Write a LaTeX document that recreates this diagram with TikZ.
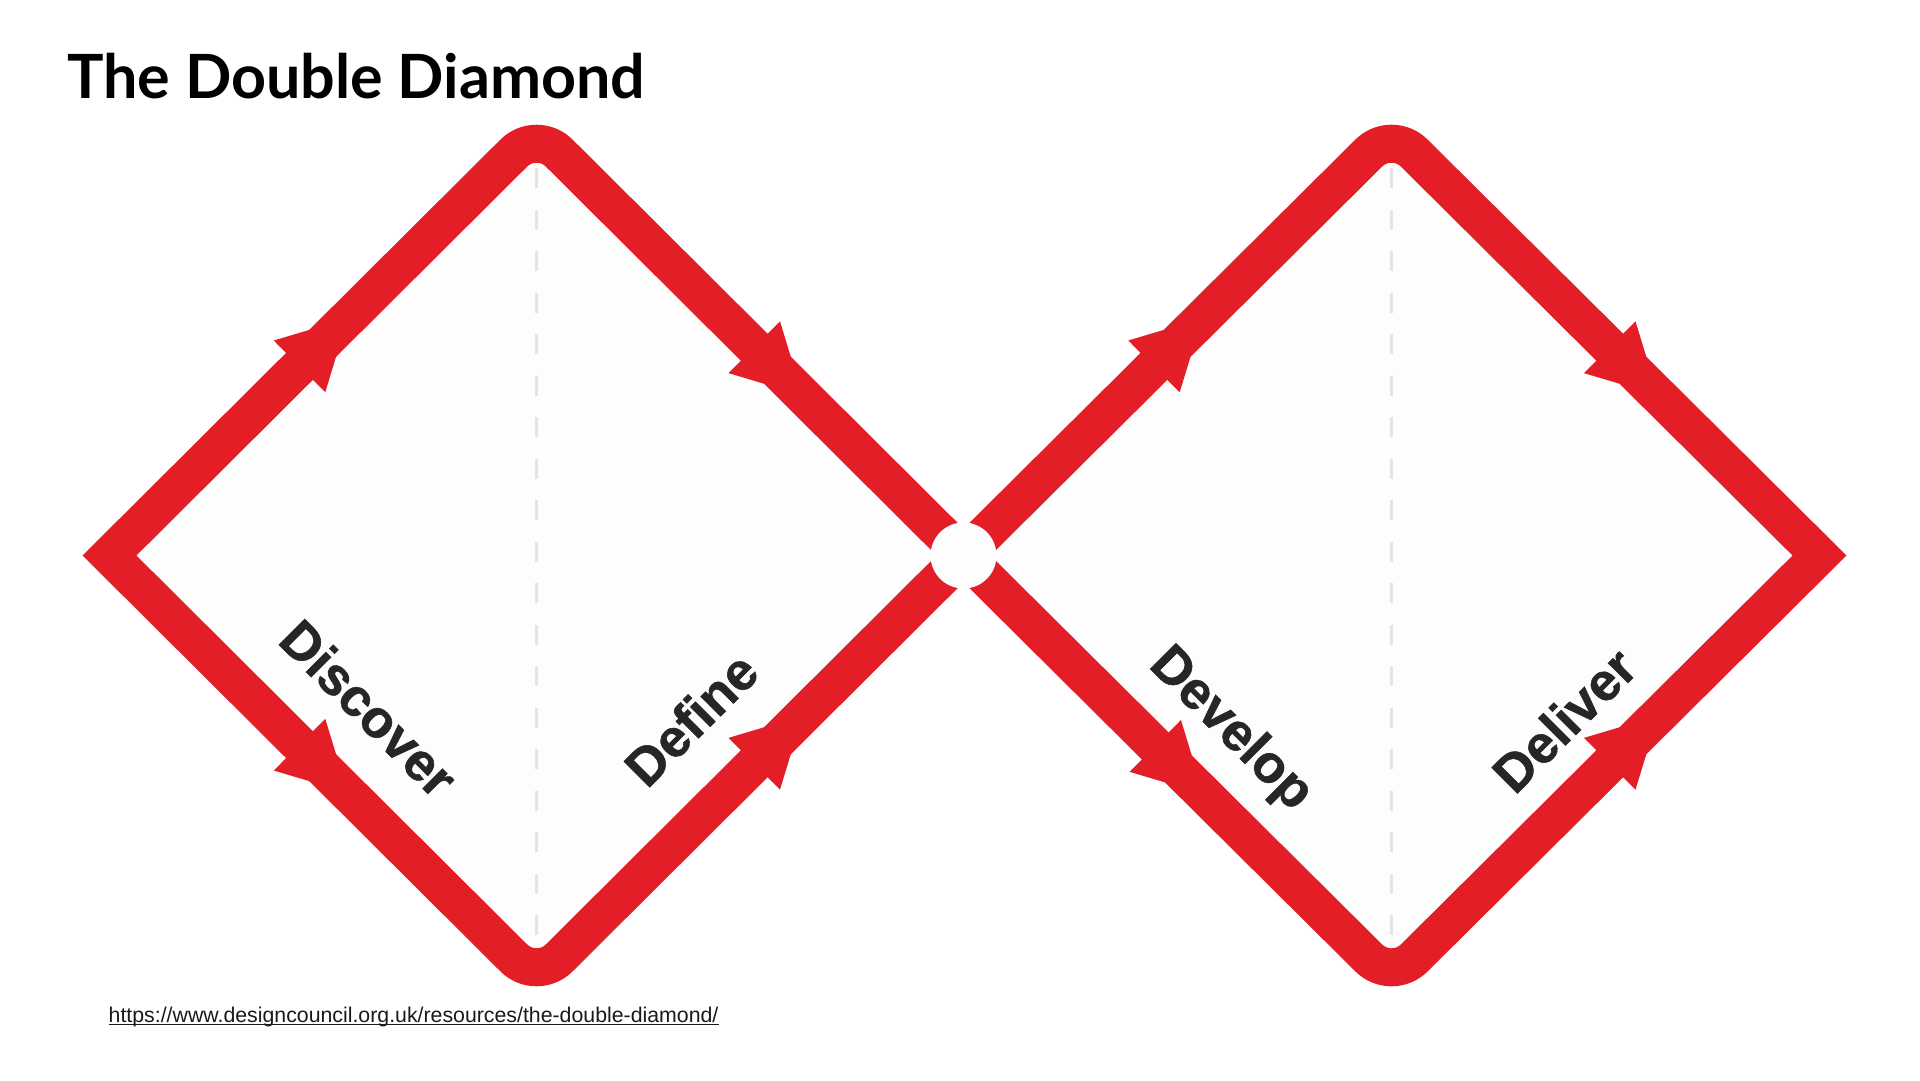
\documentclass[tikz,border=0pt]{standalone}
\usepackage{fontspec}
\setmainfont{Liberation Sans}
\newfontfamily\titlefont{Lato}
\newfontfamily\labelfont{Liberation Sans Bold}[FakeBold=1]
\usetikzlibrary{calc}
\definecolor{ddred}{HTML}{E31E26}
\definecolor{ddtext}{HTML}{262626}
\definecolor{dddash}{HTML}{E4E4E4}
\definecolor{ddin}{HTML}{FDFDFD}
\definecolor{urlc}{HTML}{1A1A1A}
\tikzset{
 ddline/.style={draw=ddred, line width=38pt, line join=miter},
 ddguide/.style={draw=dddash, line width=3.3pt, dash pattern=on 20pt off 21.5pt},
 ddlabel/.style={font={\fontsize{53pt}{53pt}\labelfont}, text=ddtext, inner sep=0pt, text height=38pt, text depth=0pt},
}
\newcommand{\ddarrow}[3]{%
 \path ($(#1)!#3!(#2)$) coordinate (ddback);
 \fill[ddred] ($(ddback)!68pt!(#2)$) -- ($(ddback)!36.5pt!90:(#2)$) -- ($(ddback)!36.5pt!-90:(#2)$) -- cycle;}
\newcommand{\ddcorner}[4]{%
 \path ($(#2)!32pt!(#3)$) coordinate (#1a) ($(#2)!14.34pt!(#3)$) coordinate (#1ac)
       ($(#2)!32pt!(#4)$) coordinate (#1b) ($(#2)!14.34pt!(#4)$) coordinate (#1bc);}
\newcommand{\ddleftpath}{(C) -- (t1b) .. controls (t1bc) and (t1ac) .. (t1a) -- (L1) -- (b1a) .. controls (b1ac) and (b1bc) .. (b1b) -- cycle}
\newcommand{\ddrightpath}{(C) -- (t2a) .. controls (t2ac) and (t2bc) .. (t2b) -- (R2) -- (b2b) .. controls (b2bc) and (b2ac) .. (b2a) -- cycle}
\begin{document}
\begin{tikzpicture}[x=1pt,y=-1pt]
\useasboundingbox (0,0) rectangle (1920,1080);
\fill[white] (0,0) rectangle (1920,1080);
% key points
\coordinate (C) at (963.5,555.5);
\coordinate (L1) at (109.5,555.5);
\coordinate (T1) at (536.5,130.5);
\coordinate (B1) at (536.5,980.5);
\coordinate (T2) at (1391.5,130.5);
\coordinate (B2) at (1391.5,980.5);
\coordinate (R2) at (1819.5,555.5);
\ddcorner{t1}{T1}{L1}{C}
\ddcorner{b1}{B1}{L1}{C}
\ddcorner{t2}{T2}{C}{R2}
\ddcorner{b2}{B2}{C}{R2}
% interiors
\fill[ddin] \ddleftpath;
\fill[ddin] \ddrightpath;
% dashed guides
\coordinate (g1s) at (536.5,168);
\coordinate (g1e) at (536.5,950);
\coordinate (g2s) at (1391.5,168);
\coordinate (g2e) at (1391.5,950);
\draw[ddguide] (g1s) -- (g1e);
\draw[ddguide] (g2s) -- (g2e);
% red outlines
\draw[ddline] \ddleftpath;
\draw[ddline] \ddrightpath;
% arrowheads
\ddarrow{L1}{T1}{0.445}
\ddarrow{T1}{C}{0.51}
\ddarrow{L1}{B1}{0.445}
\ddarrow{B1}{C}{0.51}
\ddarrow{C}{T2}{0.445}
\ddarrow{T2}{R2}{0.51}
\ddarrow{C}{B2}{0.448}
\ddarrow{B2}{R2}{0.51}
% centre hole
\fill[ddin] (C) circle[radius=33];
% labels
\node[ddlabel, rotate=-45] (discover) at (369,708) {Discover};
\node[ddlabel, rotate=45] (define) at (691,719) {Define};
\node[ddlabel, rotate=-45] (develop) at (1234,726) {Develop};
\node[ddlabel, rotate=45] (deliver) at (1564,720) {Deliver};
% title
\node[anchor=base west, inner sep=0pt, font={\fontsize{61pt}{62pt}\titlefont\bfseries}] (title) at (67,98.5) {The Double Diamond};
% url
\node[anchor=base west, inner sep=0pt, text=urlc, font={\fontsize{21.3pt}{24pt}\selectfont}] (url) at (108.5,1022) {https://www.designcouncil.org.uk/resources/the-double-diamond/};
\draw[urlc, line width=1.4pt] ([yshift=-2.6pt]url.base west) -- ([yshift=-2.6pt]url.base east);
\end{tikzpicture}
\end{document}
